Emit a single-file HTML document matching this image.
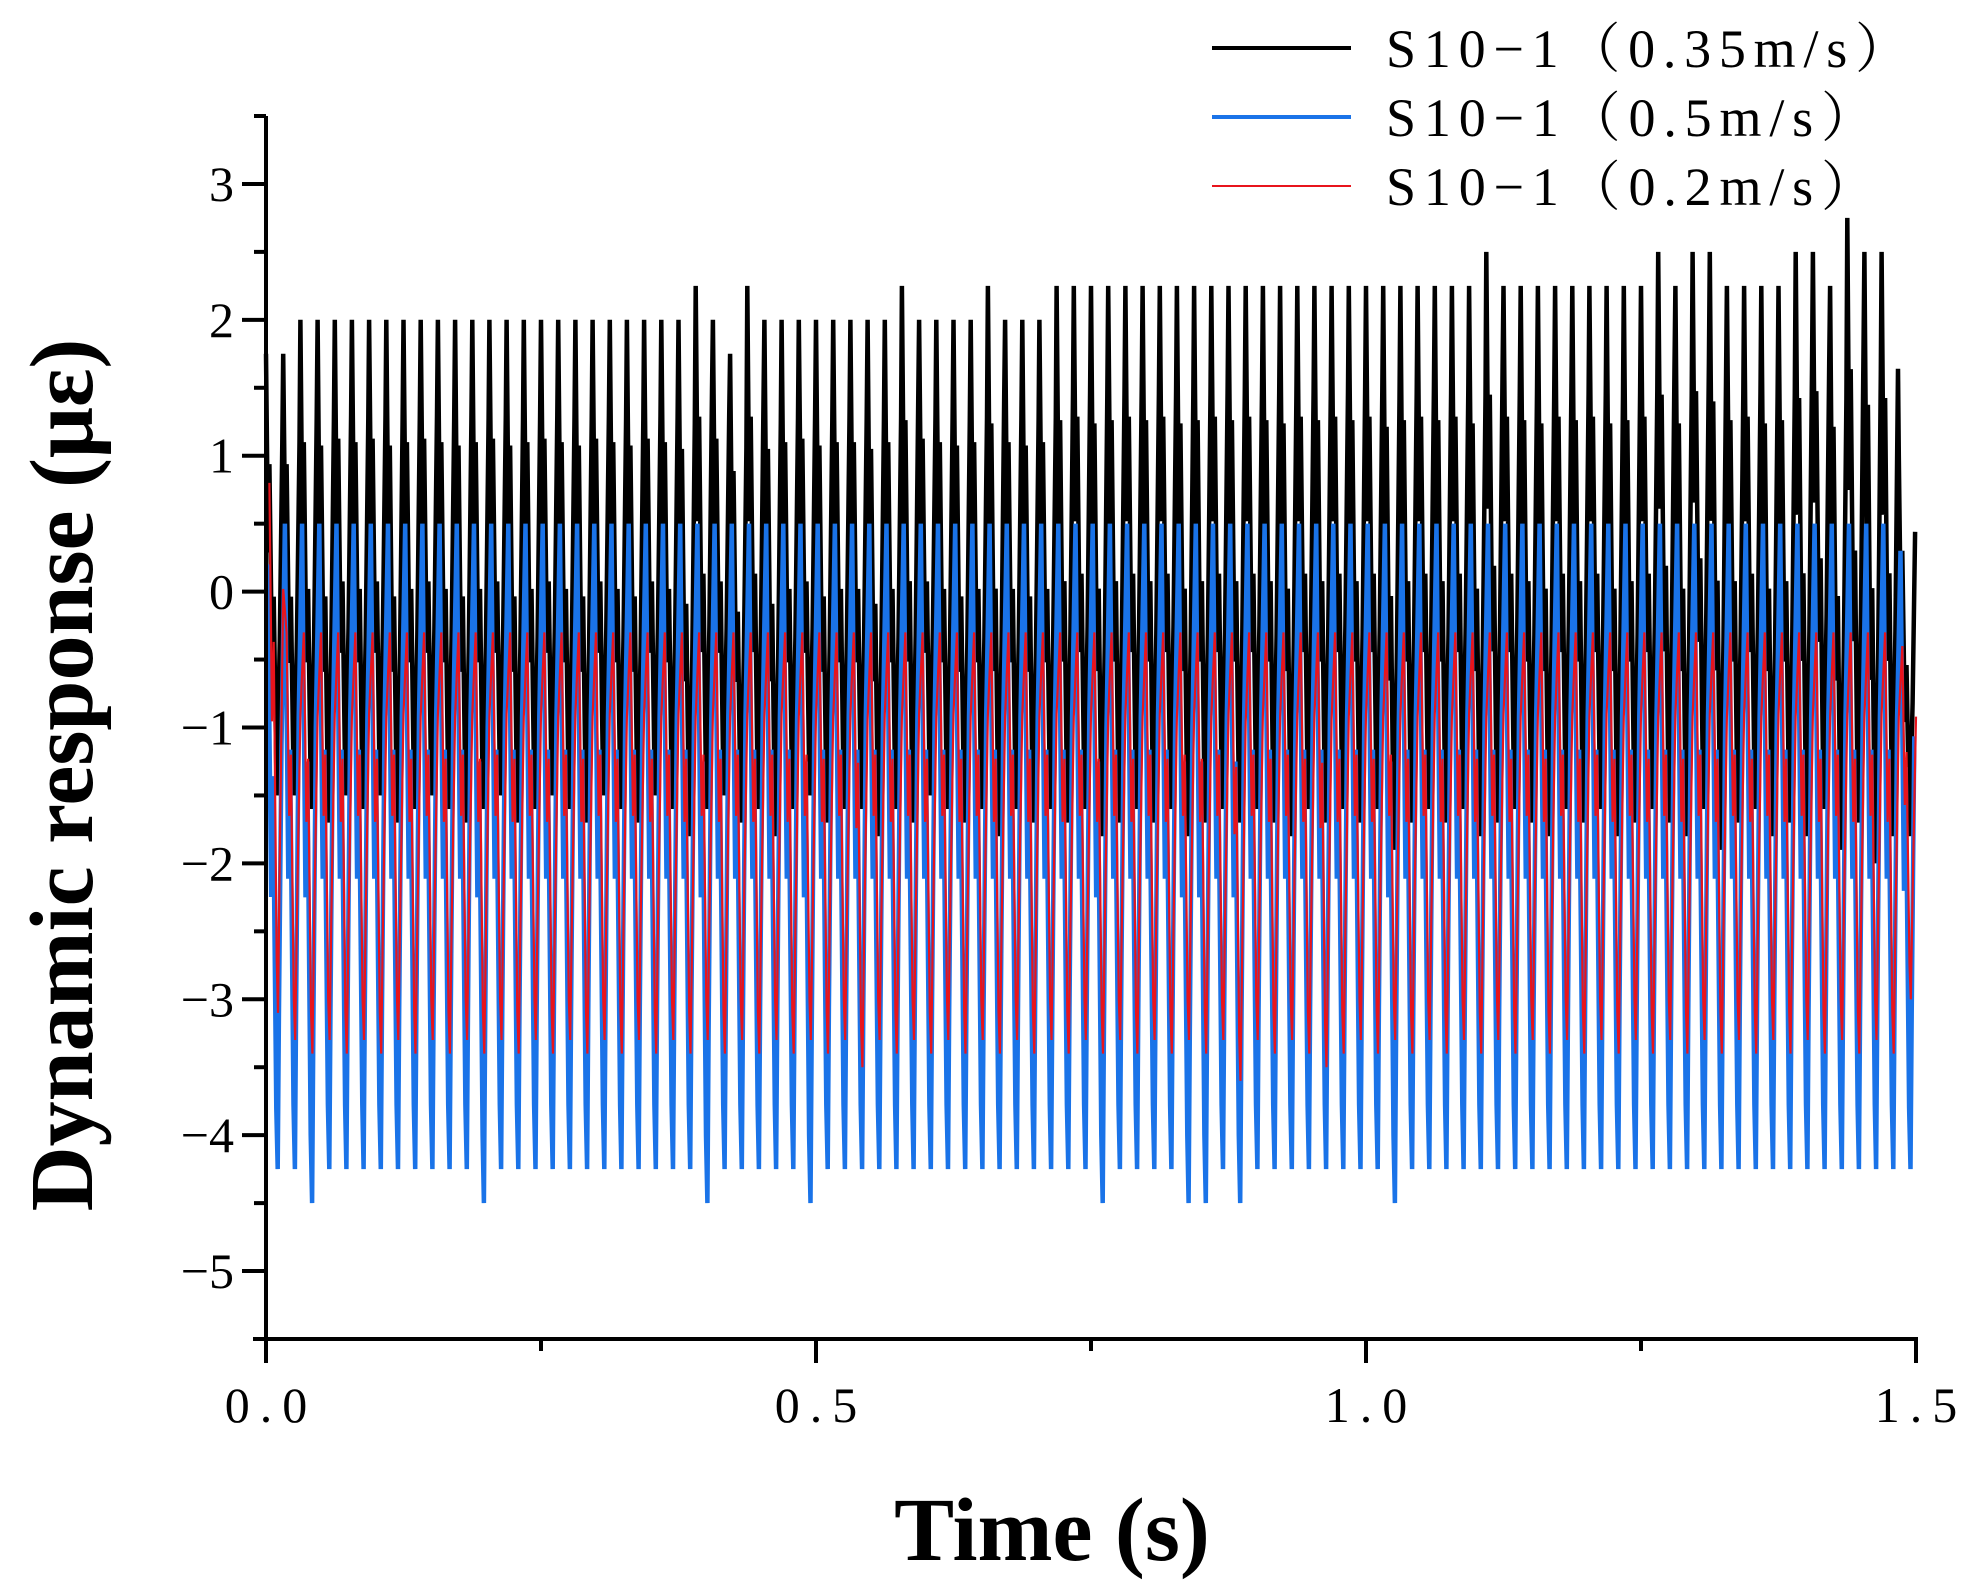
<!DOCTYPE html>
<html><head><meta charset="utf-8"><style>
body{margin:0;background:#fff}
svg{display:block}
</style></head><body>
<svg width="1975" height="1590" viewBox="0 0 1975 1590" xmlns="http://www.w3.org/2000/svg">
<g id="plot"></g>
<g id="axes"></g>
<text transform="translate(92,775) rotate(-90)" text-anchor="middle" font-family="Liberation Serif, serif" font-weight="bold" font-size="90">Dynamic response (με)</text>
<text x="1052" y="1560" text-anchor="middle" font-family="Liberation Serif, serif" font-weight="bold" font-size="90">Time (s)</text>
<g font-family="Liberation Serif, 'Noto Serif CJK SC', serif" font-size="54">
<g><line x1="1212" y1="48" x2="1351" y2="48" stroke="#000" stroke-width="4"/><text x="1386" y="67" textLength="523" lengthAdjust="spacing">S10−1（0.35m/s）</text></g>
<g><line x1="1212" y1="117" x2="1351" y2="117" stroke="#1a73e8" stroke-width="4"/><text x="1386" y="136" textLength="489" lengthAdjust="spacing">S10−1（0.5m/s）</text></g>
<g><line x1="1212" y1="186" x2="1351" y2="186" stroke="#e8141c" stroke-width="2"/><text x="1386" y="205" textLength="489" lengthAdjust="spacing">S10−1（0.2m/s）</text></g>
</g>
</svg>
<script>
const xTicks=[0,0.5,1.0,1.5];
const xTickLabels=["0.0","0.5","1.0","1.5"];
const yTicks=[-5,-4,-3,-2,-1,0,1,2,3];
const yTickLabels=["−5","−4","−3","−2","−1","0","1","2","3"];
const blackPeaks=[1.75,1.75,2,2,2,2,2,2,2,2,2,2,2,2,2,2,2,2,2,2,2,2,2,2,2,2.25,2,1.75,2.25,2,2,2,2,2,2,2,2,2.25,2,2,2,2,2.25,2,2,2,2.25,2.25,2.25,2.25,2.25,2.25,2.25,2.25,2.25,2.25,2.25,2.25,2.25,2.25,2.25,2.25,2.25,2.25,2.25,2.25,2.25,2.25,2.25,2.25,2.25,2.5,2.25,2.25,2.25,2.25,2.25,2.25,2.25,2.25,2.25,2.5,2.25,2.5,2.5,2.25,2.25,2.25,2.25,2.5,2.5,2.25,2.75,2.5,2.5,1.0];
const blackTroughs=[-1.5,-1.5,-1.6,-1.7,-1.5,-1.6,-1.5,-1.7,-1.6,-1.5,-1.6,-1.7,-1.6,-1.5,-1.7,-1.6,-1.5,-1.6,-1.7,-1.5,-1.6,-1.7,-1.5,-1.6,-1.8,-1.6,-1.5,-1.7,-1.6,-1.8,-1.6,-1.5,-1.7,-1.6,-1.6,-1.8,-1.6,-1.7,-1.5,-1.6,-1.7,-1.6,-1.8,-1.6,-1.7,-1.6,-1.7,-1.6,-1.8,-1.7,-1.6,-1.7,-1.6,-1.8,-1.7,-1.6,-1.7,-1.6,-1.7,-1.8,-1.6,-1.7,-1.6,-1.7,-1.6,-1.9,-1.7,-1.6,-1.7,-1.6,-1.8,-1.7,-1.6,-1.7,-1.8,-1.6,-1.7,-1.6,-1.8,-1.7,-1.6,-1.7,-1.8,-1.6,-1.9,-1.7,-1.6,-1.8,-1.7,-1.8,-1.6,-1.9,-1.7,-2.0,-1.8,-1.8];
const bluePeaks=[0.2,0.5,0.5,0.5,0.5,0.5,0.5,0.5,0.5,0.5,0.5,0.5,0.5,0.5,0.5,0.5,0.5,0.5,0.5,0.5,0.5,0.5,0.5,0.5,0.5,0.5,0.5,0.5,0.5,0.5,0.5,0.5,0.5,0.5,0.5,0.5,0.5,0.5,0.5,0.5,0.5,0.5,0.5,0.5,0.5,0.5,0.5,0.5,0.5,0.5,0.5,0.5,0.5,0.5,0.5,0.5,0.5,0.5,0.5,0.5,0.5,0.5,0.5,0.5,0.5,0.5,0.5,0.5,0.5,0.5,0.5,0.5,0.5,0.5,0.5,0.5,0.5,0.5,0.5,0.5,0.5,0.5,0.5,0.5,0.5,0.5,0.5,0.5,0.5,0.5,0.5,0.5,0.5,0.5,0.5,0.3];
const blueTroughs=[-4.25,-4.25,-4.5,-4.25,-4.25,-4.25,-4.25,-4.25,-4.25,-4.25,-4.25,-4.25,-4.5,-4.25,-4.25,-4.25,-4.25,-4.25,-4.25,-4.25,-4.25,-4.25,-4.25,-4.25,-4.25,-4.5,-4.25,-4.25,-4.25,-4.25,-4.25,-4.5,-4.25,-4.25,-4.25,-4.25,-4.25,-4.25,-4.25,-4.25,-4.25,-4.25,-4.25,-4.25,-4.25,-4.25,-4.25,-4.25,-4.5,-4.25,-4.25,-4.25,-4.25,-4.5,-4.5,-4.25,-4.5,-4.25,-4.25,-4.25,-4.25,-4.25,-4.25,-4.25,-4.25,-4.5,-4.25,-4.25,-4.25,-4.25,-4.25,-4.25,-4.25,-4.25,-4.25,-4.25,-4.25,-4.25,-4.25,-4.25,-4.25,-4.25,-4.25,-4.25,-4.25,-4.25,-4.25,-4.25,-4.25,-4.25,-4.25,-4.25,-4.25,-4.25,-4.25,-4.25];
const redPeaks=[0.8,-0.3,-0.3,-0.3,-0.3,-0.3,-0.3,-0.3,-0.3,-0.3,-0.3,-0.3,-0.3,-0.3,-0.3,-0.3,-0.3,-0.3,-0.3,-0.3,-0.3,-0.3,-0.3,-0.3,-0.3,-0.3,-0.3,-0.3,-0.3,-0.3,-0.3,-0.3,-0.3,-0.3,-0.3,-0.3,-0.3,-0.3,-0.3,-0.3,-0.3,-0.3,-0.3,-0.3,-0.3,-0.3,-0.3,-0.3,-0.3,-0.3,-0.3,-0.3,-0.3,-0.3,-0.3,-0.3,-0.3,-0.3,-0.3,-0.3,-0.3,-0.3,-0.3,-0.3,-0.3,-0.3,-0.3,-0.3,-0.3,-0.3,-0.3,-0.3,-0.3,-0.3,-0.3,-0.3,-0.3,-0.3,-0.3,-0.3,-0.3,-0.3,-0.3,-0.3,-0.3,-0.3,-0.3,-0.3,-0.3,-0.3,-0.3,-0.3,-0.3,-0.3,-0.3,-0.4];
const redTroughs=[-3.1,-3.3,-3.4,-3.3,-3.4,-3.3,-3.4,-3.3,-3.4,-3.3,-3.4,-3.3,-3.4,-3.3,-3.4,-3.3,-3.4,-3.3,-3.4,-3.3,-3.4,-3.3,-3.4,-3.3,-3.4,-3.3,-3.4,-3.3,-3.4,-3.3,-3.4,-3.3,-3.4,-3.3,-3.5,-3.3,-3.4,-3.3,-3.4,-3.3,-3.4,-3.3,-3.4,-3.3,-3.4,-3.3,-3.4,-3.3,-3.4,-3.3,-3.4,-3.3,-3.4,-3.3,-3.4,-3.3,-3.6,-3.3,-3.4,-3.3,-3.4,-3.5,-3.4,-3.3,-3.4,-3.3,-3.4,-3.3,-3.4,-3.3,-3.4,-3.3,-3.4,-3.3,-3.4,-3.3,-3.4,-3.3,-3.4,-3.3,-3.4,-3.3,-3.4,-3.3,-3.4,-3.3,-3.4,-3.3,-3.4,-3.3,-3.4,-3.3,-3.4,-3.3,-3.4,-3.0];
const tMax=1.5;

const X0=266,X1=1916,Y0=1339,Y1=116,yMin=-5.5,yMax=3.5;
function xs(t){return X0+(t/tMax)*(X1-X0);}
function ys(v){return Y0-(v-yMin)/(yMax-yMin)*(Y0-Y1);}
const NS="http://www.w3.org/2000/svg";
const plot=document.getElementById('plot'),axes=document.getElementById('axes');

function series(peaks,troughs,color,w,name,shape){
  const n=peaks.length,per=tMax/n;let d="";
  for(let i=0;i<n;i++){
    const t0=i*per,p=peaks[i],q=troughs[i];
    shape.forEach((s,j)=>{
      const v=q+(p-q)*s[1];
      d+=(i===0&&j===0?"M":"L")+xs(t0+s[0]*per).toFixed(1)+","+ys(v).toFixed(1);
    });
  }
  const path=document.createElementNS(NS,'path');
  path.setAttribute('d',d);path.setAttribute('fill','none');
  path.setAttribute('stroke',color);path.setAttribute('stroke-width',w);
  path.setAttribute('stroke-linejoin','miter');
  
  
  plot.appendChild(path);
}
series(blackPeaks,blackTroughs,'#000',4.5,'series-0.35ms',[[0,1],[0.12,0.55],[0.2,0.75],[0.35,0.3],[0.45,0.45],[0.62,0],[0.8,0.35],[0.95,0.8]]);
series(bluePeaks,blueTroughs,'#1a73e8',4.5,'series-0.5ms',[[0.1,1],[0.3,0.45],[0.4,0.65],[0.6,0.1],[0.68,0],[0.75,0.25],[0.9,0.7]]);
series(redPeaks,redTroughs,'#e8141c',2.2,'series-0.2ms',[[0.2,1],[0.35,0.55],[0.45,0.7],[0.62,0.1],[0.7,0],[0.8,0.3],[1.0,0.8]]);

function el(tag,attrs,parent,txt){const e=document.createElementNS(NS,tag);for(const k in attrs)e.setAttribute(k,attrs[k]);if(txt!==undefined)e.textContent=txt;parent.appendChild(e);return e;}
const yAxis=el('line',{x1:X0,y1:Y1,x2:X0,y2:Y0+24,stroke:'#000','stroke-width':4},axes);


const xAxis=el('line',{x1:X0-13,y1:Y0,x2:X1+2,y2:Y0,stroke:'#000','stroke-width':4},axes);


for(let v=-5.5;v<=3.51;v+=0.5){
  const major=Math.abs(v-Math.round(v))<0.01;
  const tk=el('line',{x1:X0-(major?24:12),y1:ys(v),x2:X0,y2:ys(v),stroke:'#000','stroke-width':4},axes);
  
  
}
yTicks.forEach((v,i)=>{
  const t=el('text',{x:234,y:ys(v)+17,'text-anchor':'end','font-family':'Liberation Serif, serif','font-size':50},axes,yTickLabels[i]);
  
  
});
for(let t=0;t<=1.501;t+=0.25){
  const major=Math.abs(t*2-Math.round(t*2))<0.01;
  const tk=el('line',{x1:xs(t),y1:Y0,x2:xs(t),y2:Y0+(major?24:12),stroke:'#000','stroke-width':4},axes);
  
  
}
xTicks.forEach((v,i)=>{
  const t=el('text',{x:xs(v)+5,y:1422,'text-anchor':'middle','font-family':'Liberation Serif, serif','font-size':50,'letter-spacing':'10'},axes,xTickLabels[i]);
  
  
});
</script>
</body></html>
